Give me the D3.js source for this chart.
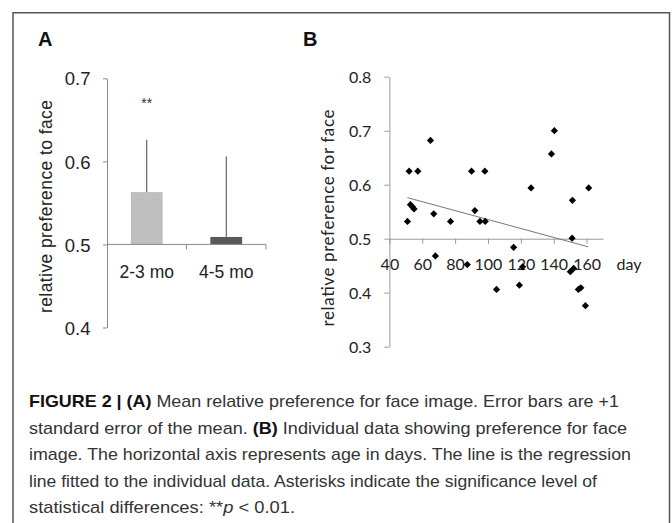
<!DOCTYPE html>
<html>
<head>
<meta charset="utf-8">
<script src="https://cdn.jsdelivr.net/npm/d3@7"></script>
<style>
  body { margin: 0; background: #fff; }
  svg { display: block; }
</style>
</head>
<body>
<div id="chart"></div>
<script>
// panel A data
var groups = ["2-3 mo", "4-5 mo"];
var groupMeans = [0.563, 0.509];
var groupErr = [0.063, 0.097];
var groupStars = ["**", ""];
var aTicks = [0.4, 0.5, 0.6, 0.7];

// panel B data (age in days, relative preference)
var ageDays = [51, 52, 57.3, 52.8, 54, 55, 65, 67, 68, 77.2, 87.4, 90, 92, 95.1, 98.1, 98.3,
  105.2, 115.6, 119.1, 121.1, 126.2, 138.6, 140.4, 151.4, 151.2, 150.1, 152.1, 155, 156.5, 159.3, 161.3];
var prefFace = [0.532, 0.625, 0.625, 0.563, 0.559, 0.555, 0.682, 0.546, 0.468, 0.532, 0.452, 0.625, 0.552, 0.532, 0.625, 0.532,
  0.406, 0.484, 0.414, 0.448, 0.594, 0.657, 0.700, 0.571, 0.501, 0.439, 0.445, 0.406, 0.409, 0.376, 0.594];
var regDays = [51, 161];
var regPref = [0.576, 0.485];
var bXTicks = [40, 60, 80, 100, 120, 140, 160];
var bYTicks = [0.3, 0.4, 0.5, 0.6, 0.7, 0.8];

// caption lines: [text, 1 = bold, 2 = italic]
var captionLines = [
  [["FIGURE 2 | (A)", 1], [" Mean relative preference for face image. Error bars are +1", 0]],
  [["standard error of the mean. ", 0], ["(B)", 1], [" Individual data showing preference for face", 0]],
  [["image. The horizontal axis represents age in days. The line is the regression", 0]],
  [["line fitted to the individual data. Asterisks indicate the significance level of", 0]],
  [["statistical differences: **", 0], ["p", 2], [" < 0.01.", 0]]
];
var captionWidths = [590, 598, 602, 568, 266];

var svg = d3.select("#chart").append("svg")
    .attr("width", 672)
    .attr("height", 523);

// frame
svg.append("path")
    .attr("d", "M13,530 V12.7 H669.5 V530")
    .attr("fill", "none")
    .attr("stroke", "#555")
    .attr("stroke-width", 1.5);

var arial = "'Liberation Sans', Arial, sans-serif";
var lato = "Lato, 'Open Sans', sans-serif";

svg.append("text").attr("x", 38).attr("y", 46).text("A")
    .attr("font-family", arial).attr("font-weight", "bold").attr("font-size", 20).attr("fill", "#111");
svg.append("text").attr("x", 303).attr("y", 46).text("B")
    .attr("font-family", arial).attr("font-weight", "bold").attr("font-size", 20).attr("fill", "#111");

// ---------- panel A ----------
var ay = d3.scaleLinear().domain([0.4, 0.7]).range([327.5, 78.3]);
var ax = d3.scaleBand().domain(groups).range([107, 266]).paddingInner(0.6).paddingOuter(0.3);

var gA = svg.append("g");

var aAxis = gA.append("g")
    .attr("transform", "translate(107,0)")
    .call(d3.axisLeft(ay).tickValues(aTicks).tickSize(4).tickSizeOuter(0).tickFormat(d3.format(".1f")));
aAxis.select(".domain").attr("stroke", "#8a8a8a");
aAxis.selectAll(".tick line").attr("stroke", "#8a8a8a");
aAxis.selectAll(".tick text")
    .attr("font-family", arial).attr("font-size", 18.5).attr("fill", "#222")
    .attr("x", -16.5).attr("dy", "0.36em");

var colors = ["#bfbfbf", "#595959"];
gA.selectAll("rect.bar")
    .data(groups)
    .enter()
    .append("rect")
    .attr("class", "bar")
    .attr("x", d => ax(d))
    .attr("width", ax.bandwidth())
    .attr("y", (d, i) => ay(groupMeans[i]))
    .attr("height", (d, i) => ay(0.5) - ay(groupMeans[i]))
    .attr("fill", (d, i) => colors[i]);

gA.selectAll("line.err")
    .data(groups)
    .enter()
    .append("line")
    .attr("class", "err")
    .attr("x1", d => ax(d) + ax.bandwidth() / 2)
    .attr("x2", d => ax(d) + ax.bandwidth() / 2)
    .attr("y1", (d, i) => ay(groupMeans[i]))
    .attr("y2", (d, i) => ay(groupMeans[i] + groupErr[i]))
    .attr("stroke", "#444")
    .attr("stroke-width", 1);

// x baseline of panel A
var aBase = ay(0.5);
gA.append("line")
    .attr("x1", 107).attr("x2", 266)
    .attr("y1", aBase).attr("y2", aBase)
    .attr("stroke", "#8a8a8a");
[107 + ax.step(), 266].forEach(function(t) {
  gA.append("line")
      .attr("x1", t).attr("x2", t)
      .attr("y1", aBase).attr("y2", aBase + 5)
      .attr("stroke", "#8a8a8a");
});

gA.selectAll("text.cat")
    .data(groups)
    .enter()
    .append("text")
    .attr("class", "cat")
    .attr("x", d => ax(d) + ax.bandwidth() / 2)
    .attr("y", 278)
    .attr("text-anchor", "middle")
    .attr("font-family", arial).attr("font-size", 17.5).attr("fill", "#222")
    .text(d => d);

gA.selectAll("text.star")
    .data(groups)
    .enter()
    .append("text")
    .attr("class", "star")
    .attr("x", d => ax(d) + ax.bandwidth() / 2)
    .attr("y", 108)
    .attr("text-anchor", "middle")
    .attr("font-family", arial).attr("font-size", 14).attr("fill", "#333")
    .text((d, i) => groupStars[i]);

svg.append("text")
    .attr("transform", "translate(52,206.5) rotate(-90)")
    .attr("text-anchor", "middle")
    .attr("font-family", arial).attr("font-size", 17.5).attr("fill", "#222")
    .attr("textLength", 213).attr("lengthAdjust", "spacing")
    .text("relative preference to face");

// ---------- panel B ----------
var bx = d3.scaleLinear().domain([40, 170]).range([389.4, 603]);
var by = d3.scaleLinear().domain([0.3, 0.8]).range([346.7, 76.7]);

var gB = svg.append("g");

var bYAxis = gB.append("g")
    .attr("transform", "translate(389.4,0)")
    .call(d3.axisLeft(by).tickValues(bYTicks).tickSize(5).tickSizeOuter(0).tickFormat(d3.format(".1f")));
bYAxis.select(".domain").attr("stroke", "#999");
bYAxis.selectAll(".tick line").attr("stroke", "#999");
bYAxis.selectAll(".tick text")
    .attr("font-family", lato).attr("font-size", 16).attr("fill", "#222")
    .attr("x", -18).attr("dy", "0.36em");

var bXAxis = gB.append("g")
    .attr("transform", "translate(0," + by(0.5) + ")")
    .call(d3.axisBottom(bx).tickValues(bXTicks).tickSize(5).tickSizeOuter(0));
bXAxis.select(".domain").attr("stroke", "#999");
bXAxis.selectAll(".tick line").attr("stroke", "#999");
bXAxis.selectAll(".tick text")
    .attr("font-family", lato).attr("font-size", 16).attr("fill", "#222")
    .attr("y", 31).attr("dy", 0);

gB.append("text")
    .attr("x", 629).attr("y", by(0.5) + 31)
    .attr("text-anchor", "middle")
    .attr("font-family", lato).attr("font-size", 16).attr("fill", "#222")
    .text("day");

gB.append("line")
    .attr("x1", bx(regDays[0])).attr("y1", by(regPref[0]))
    .attr("x2", bx(regDays[1])).attr("y2", by(regPref[1]))
    .attr("stroke", "#777")
    .attr("stroke-width", 1);

gB.selectAll("path.pt")
    .data(ageDays)
    .enter()
    .append("path")
    .attr("class", "pt")
    .attr("d", d3.symbol(d3.symbolSquare, 26))
    .attr("transform", (d, i) => "translate(" + bx(d) + "," + by(prefFace[i]) + ") rotate(45)")
    .attr("fill", "#000");

svg.append("text")
    .attr("transform", "translate(334,218) rotate(-90)")
    .attr("text-anchor", "middle")
    .attr("font-family", lato).attr("font-size", 17).attr("fill", "#222")
    .attr("textLength", 217).attr("lengthAdjust", "spacing")
    .text("relative preference for face");

// ---------- caption ----------
var capY = [407, 433.5, 460, 486.5, 513];
captionLines.forEach(function(line, i) {
  var t = svg.append("text")
      .attr("x", 29)
      .attr("y", capY[i])
      .attr("font-family", arial)
      .attr("font-size", 17)
      .attr("fill", "#333")
      .attr("textLength", captionWidths[i])
      .attr("lengthAdjust", "spacingAndGlyphs");
  line.forEach(function(seg) {
    t.append("tspan")
        .attr("font-weight", seg[1] === 1 ? "bold" : null)
        .attr("font-style", seg[1] === 2 ? "italic" : null)
        .attr("fill", seg[1] === 1 ? "#111" : null)
        .text(seg[0]);
  });
});
</script>
</body>
</html>
